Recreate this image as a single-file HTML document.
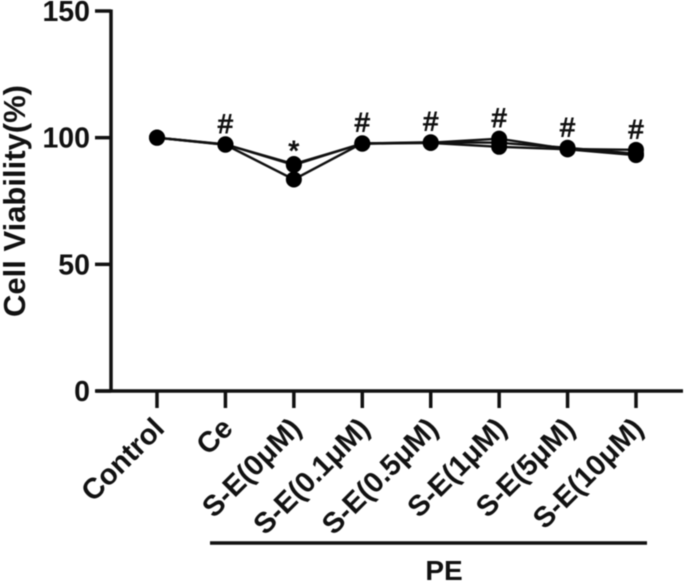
<!DOCTYPE html>
<html>
<head>
<meta charset="utf-8">
<style>
html,body{margin:0;padding:0;background:#fff;}
svg{display:block;filter:blur(0.4px);}
text{font-family:"Liberation Sans",sans-serif;font-weight:bold;fill:#111;}
</style>
</head>
<body>
<svg id="chart" width="685" height="582" viewBox="0 0 685 582" xmlns="http://www.w3.org/2000/svg">
<rect width="685" height="582" fill="#fff"/>
</svg>
<script>
const categories = ["Control","Ce","S-E(0μM)","S-E(0.1μM)","S-E(0.5μM)","S-E(1μM)","S-E(5μM)","S-E(10μM)"];
const seriesA = [100,97.3,89.6,97.6,98.0,99.6,95.5,95.2];
const seriesB = [100,97.4,89.2,97.7,98.2,98.0,96.0,93.6];
const seriesC = [100,97.2,83.5,97.8,97.9,96.4,95.4,93.1];
const yTicks = [0,50,100,150];
const annotations = ["","#","*","#","#","#","#","#"];
const groupLabel = "PE";
const yTitle = "Cell Viability(%)";

const svg = document.getElementById('chart');
const NS = 'http://www.w3.org/2000/svg';
const yScale = v => 391 - v * (380 / 150);
const xScale = i => 157 + i * (479 / 7);

function make(tag, attrs, parent) {
  const el = document.createElementNS(NS, tag);
  for (const k in attrs) el.setAttribute(k, attrs[k]);
  (parent || svg).appendChild(el);
  return el;
}

// Y axis
const yAxis = make('line', {x1:111,y1:yScale(150)-1.5,x2:111,y2:yScale(0)+1.5,stroke:'#111','stroke-width':3.5});



yTicks.forEach(t => {
  const tick = make('line', {x1:95,y1:yScale(t),x2:111,y2:yScale(t),stroke:'#111','stroke-width':3.5});
  
  
  const label = make('text', {x:90,y:yScale(t)+10,'text-anchor':'end','font-size':28.5});
  label.textContent = t;
  
  
});

// Y title
const yt = make('text', {x:0,y:0,'text-anchor':'middle','font-size':31,transform:'translate(25,201) rotate(-90)'});
yt.textContent = yTitle;



// X axis
const xAxis = make('line', {x1:96,y1:391,x2:683,y2:391,stroke:'#111','stroke-width':3.5});



categories.forEach((c, i) => {
  const x = xScale(i);
  const tick = make('line', {x1:x,y1:391,x2:x,y2:408,stroke:'#111','stroke-width':3.5});
  
  
  const label = make('text', {x:0,y:0,'text-anchor':'end','font-size':29,transform:'translate(' + (x+9) + ',430) rotate(-45)'});
  label.textContent = c;
  
  
});

// Series
[seriesA, seriesB, seriesC].forEach((s, si) => {
  const path = make('polyline', {points:s.map((v,i)=>xScale(i)+','+yScale(v)).join(' '),fill:'none',stroke:'#111','stroke-width':2.4});
  
  
  s.forEach((v,i) => {
    const p = make('circle', {cx:xScale(i),cy:yScale(v),r:8,fill:'#000'});
    
    
  });
});

// Annotations
annotations.forEach((a, i) => {
  if (!a) return;
  const top = Math.max(seriesA[i], seriesB[i], seriesC[i]);
  const isStar = a === '*';
  const t = make('text', {x:xScale(i),y:yScale(top) + (isStar ? -4 : -11.5),'text-anchor':'middle','font-size':isStar ? 28 : 27,style:'font-weight:normal;stroke:#111;stroke-width:0.9'});
  t.textContent = a;
  
  
});

// Group bracket
const bar = make('line', {x1:210,y1:543,x2:647,y2:543,stroke:'#111','stroke-width':3.5});


const pe = make('text', {x:444,y:580,'text-anchor':'middle','font-size':28});
pe.textContent = groupLabel;


</script>
</body>
</html>
